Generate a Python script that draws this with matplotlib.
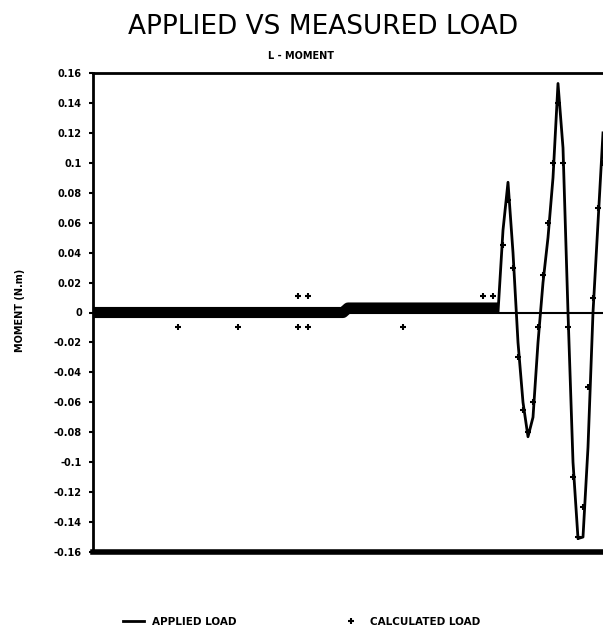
import matplotlib
matplotlib.use("Agg")
from matplotlib import pyplot as plt

# sample index (time steps)
samples = list(range(103))

# applied load (N.m): quiet until step 81, then the oscillation
applied_load = (
    [0.0] * 82
    + [0.055, 0.087, 0.04, -0.02, -0.06, -0.083, -0.07, -0.02, 0.02, 0.05,
       0.09, 0.153, 0.11, 0.0, -0.1, -0.151, -0.15, -0.09, 0.0, 0.06, 0.12]
)

# calculated load (N.m), quiet part: dense points merge into a band
quiet_steps = samples[:82]
quiet_calc = [0.0] * 51 + [0.003] * 31

# calculated load, isolated points off the band
stray_steps = [17, 29, 41, 41, 43, 43, 62, 78, 80]
stray_calc = [-0.01, -0.01, -0.01, 0.011, -0.01, 0.011, -0.01, 0.011, 0.011]

# calculated load during the oscillation
osc_steps = samples[82:]
osc_calc = [0.045, 0.075, 0.03, -0.03, -0.065, -0.08, -0.06, -0.01, 0.025, 0.06,
            0.1, 0.14, 0.1, -0.01, -0.11, -0.15, -0.13, -0.05, 0.01, 0.07, 0.1]

y_ticks = [0.16, 0.14, 0.12, 0.1, 0.08, 0.06, 0.04, 0.02, 0.0,
           -0.02, -0.04, -0.06, -0.08, -0.1, -0.12, -0.14, -0.16]
y_tick_labels = ["0.16", "0.14", "0.12", "0.1", "0.08", "0.06", "0.04", "0.02", "0",
                 "-0.02", "-0.04", "-0.06", "-0.08", "-0.1", "-0.12", "-0.14", "-0.16"]

fig = plt.figure(figsize=(6.03, 6.33), dpi=100)
ax = fig.add_axes([93 / 603, 1 - 552 / 633, 1 - 93 / 603, (552 - 73) / 633])

ax.axhline(0, color="black", linewidth=1.5, zorder=1)
line_applied, = ax.plot(samples, applied_load, color="black", linewidth=2,
                        label="APPLIED LOAD", zorder=2)

# band of overlapping calculated points
ax.plot(quiet_steps, quiet_calc, color="black", linewidth=8,
        solid_capstyle="butt", zorder=3)
calc_kw = dict(linestyle="none", marker="+", markersize=5,
               markeredgewidth=1.5, color="black", zorder=3)
ax.plot(stray_steps, stray_calc, **calc_kw)
line_calc, = ax.plot(osc_steps, osc_calc, label="CALCULATED LOAD", **calc_kw)

ax.set_xlim(0, 102)
ax.set_ylim(-0.16, 0.16)
ax.set_xticks([])
ax.set_yticks(y_ticks)
ax.set_yticklabels(y_tick_labels, fontsize=7, fontweight="bold")
ax.tick_params(axis="y", length=3, width=1.5, pad=5)

ax.spines["right"].set_visible(False)
ax.spines["left"].set_linewidth(2)
ax.spines["top"].set_linewidth(2)
ax.spines["bottom"].set_linewidth(4)

fig.text(0.535, 0.958, "APPLIED VS MEASURED LOAD", ha="center", va="center",
         fontsize=19)
fig.text(0.50, 0.911, "L - MOMENT", ha="center", va="center",
         fontsize=7, fontweight="bold")
fig.text(0.033, 0.51, "MOMENT (N.m)", ha="center", va="center",
         rotation=90, fontsize=7, fontweight="bold")

fig.legend(handles=[line_applied, line_calc], loc="center",
           bbox_to_anchor=(0.50, 0.018), ncol=2, frameon=False,
           columnspacing=10, handlelength=2,
           prop={"weight": "bold", "size": 7.5})

fig.savefig("out.png", dpi=100)
plt.close(fig)
